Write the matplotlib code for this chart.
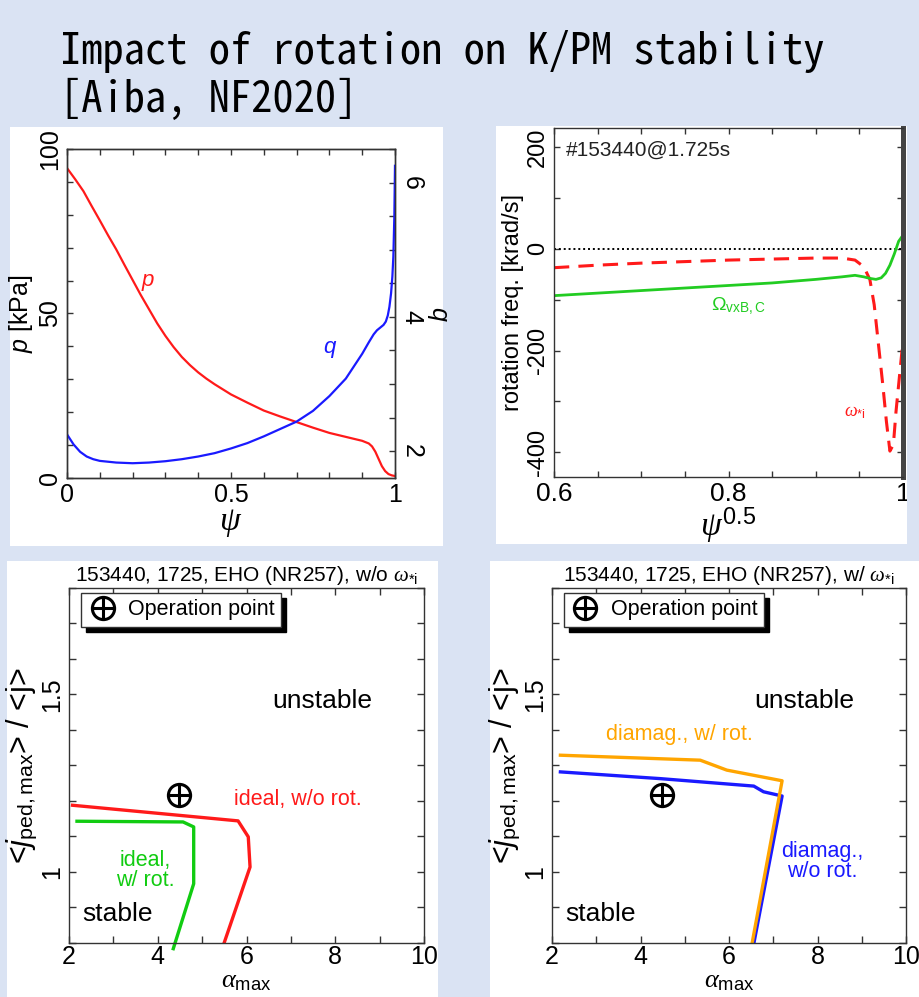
import matplotlib
matplotlib.use('Agg')
import matplotlib.pyplot as plt
from matplotlib.patches import Rectangle
from matplotlib.ticker import MultipleLocator, FixedLocator

plt.rcParams['font.family'] = 'Liberation Sans'
plt.rcParams['axes.unicode_minus'] = False
plt.rcParams['mathtext.fontset'] = 'custom'
plt.rcParams['mathtext.rm'] = 'Liberation Sans'
plt.rcParams['mathtext.it'] = 'Liberation Serif:italic'
plt.rcParams['mathtext.sf'] = 'Liberation Sans:italic'
plt.rcParams['mathtext.bf'] = 'Liberation Sans:bold'

# ---------------- data ----------------
# top-left: pressure and safety factor profiles
psi_p = [0, 0.025, 0.05, 0.075, 0.10, 0.125, 0.15, 0.175, 0.20, 0.225, 0.25, 0.275,
         0.30, 0.325, 0.35, 0.375, 0.40, 0.425, 0.45, 0.50, 0.55, 0.60, 0.65, 0.70,
         0.75, 0.80, 0.85, 0.90, 0.92, 0.93, 0.94, 0.95, 0.96, 0.97, 0.98, 0.99, 1.0]
p_kpa = [94.2, 90.8, 87.2, 82.7, 78.3, 73.8, 69.5, 64.8, 60.2, 55.6, 51.3, 47.0,
         43.2, 39.8, 36.8, 34.3, 32.1, 30.2, 28.5, 25.4, 22.9, 20.5, 18.7, 17.0,
         15.3, 13.7, 12.5, 11.3, 10.5, 9.6, 8.0, 5.8, 3.6, 2.1, 1.2, 0.8, 0.6]
psi_q = [0, 0.02, 0.04, 0.06, 0.08, 0.10, 0.15, 0.20, 0.25, 0.30, 0.35, 0.40, 0.45,
         0.50, 0.55, 0.60, 0.65, 0.70, 0.75, 0.80, 0.85, 0.90, 0.92, 0.935, 0.945,
         0.955, 0.965, 0.972, 0.978, 0.983, 0.988, 0.992, 0.995, 0.998, 1.0]
q_val = [2.25, 2.10, 1.99, 1.92, 1.88, 1.855, 1.83, 1.82, 1.83, 1.85, 1.88, 1.92, 1.97,
         2.04, 2.12, 2.22, 2.33, 2.44, 2.60, 2.82, 3.08, 3.45, 3.62, 3.74, 3.80,
         3.84, 3.88, 3.93, 4.02, 4.15, 4.35, 4.6, 4.9, 5.5, 6.25]

# top-right: rotation frequencies
rho_star = [0.60, 0.65, 0.70, 0.75, 0.80, 0.85, 0.90, 0.93, 0.945, 0.955, 0.962,
            0.967, 0.972, 0.977, 0.981, 0.985, 0.989, 0.992, 0.996, 1.0]
omega_star = [-37, -32, -28, -25, -22, -20, -18, -18, -22, -35, -60,
              -110, -190, -270, -340, -398, -385, -320, -250, -180]
rho_vxb = [0.60, 0.65, 0.70, 0.75, 0.80, 0.85, 0.90, 0.93, 0.945, 0.955, 0.962,
           0.969, 0.975, 0.98, 0.985, 0.99, 0.995, 1.0]
omega_vxb = [-92, -87, -82, -77, -72, -67, -60, -55, -52, -55, -58,
             -60, -57, -48, -32, -10, 15, 27]

# bottom: stability boundaries (alpha_max, <j_ped,max>/<j>)
ideal_norot_a = [2.08, 5.81, 6.04, 6.08, 5.49]
ideal_norot_j = [1.188, 1.144, 1.099, 1.014, 0.798]
ideal_rot_a = [2.18, 4.57, 4.81, 4.81, 4.35]
ideal_rot_j = [1.143, 1.141, 1.127, 0.967, 0.784]
dia_rot_a = [2.19, 5.35, 5.95, 7.20, 6.52]
dia_rot_j = [1.329, 1.315, 1.287, 1.257, 0.798]
dia_norot_a = [2.19, 4.45, 6.56, 6.78, 7.20, 6.56]
dia_norot_j = [1.282, 1.263, 1.242, 1.226, 1.214, 0.798]
op_a = [4.47, 4.49]
op_j = [1.218, 1.216]

# ---------------- layout helpers ----------------
W, H = 919, 997
fig = plt.figure(figsize=(W / 100, H / 100), dpi=100, facecolor='#dae3f3')


def px_axes(l, t, r, b):
    return fig.add_axes([l / W, 1 - b / H, (r - l) / W, (b - t) / H])


def white_box(l, t, r, b):
    rect = Rectangle((l / W, 1 - b / H), (r - l) / W, (b - t) / H,
                     transform=fig.transFigure, facecolor='white',
                     edgecolor='none', zorder=-1)
    fig.add_artist(rect)
    return rect


def style(ax, color='#333333'):
    for s in ax.spines.values():
        s.set_color(color)
        s.set_linewidth(1.0)
    ax.tick_params(which='both', direction='in', length=4, width=1,
                   colors=color, labelcolor='black', labelsize=18)


box1 = white_box(10, 127, 443, 546)
box2 = white_box(496, 126, 907, 544)
box3 = white_box(7, 561, 438, 997)
box4 = white_box(490, 561, 919, 997)

# title
title_font = ['Noto Sans Mono CJK JP', 'DejaVu Sans Mono']
fig.text(60 / W, 1 - 64 / H, 'Impact of rotation on K/PM stability',
         family=title_font, fontsize=30.6, va='baseline')
fig.text(60 / W, 1 - 112 / H, '[Aiba, NF2020]',
         family=title_font, fontsize=30.6, va='baseline')

# ---------------- panel 1: p and q ----------------
ax1 = px_axes(67, 149, 395, 478)
ax1.plot(psi_p, p_kpa, color='#ff1a1a', lw=1.6)
ax1.set_xlim(0, 1)
ax1.set_ylim(0, 100)
style(ax1)
ax1.xaxis.set_major_locator(FixedLocator([0, 0.5, 1]))
ax1.xaxis.set_minor_locator(MultipleLocator(0.1))
ax1.yaxis.set_major_locator(FixedLocator([0, 50, 100]))
ax1.yaxis.set_minor_locator(MultipleLocator(10))
ax1.tick_params(top=True, which='both')
ax1.xaxis.set_major_formatter(lambda v, pos: f'{v:g}')
ax1.tick_params(axis='y', labelrotation=90)
ax1.set_xlabel(r'$\psi$', fontsize=24, labelpad=0)
ax1.set_ylabel('$\\mathsf{p}$ [kPa]', fontsize=18, labelpad=2)
ax1.text(0.245, 60, 'p', color='#ff1a1a', style='italic', fontsize=16,
         ha='center', va='center')

ax1q = ax1.twinx()
ax1q.plot(psi_q, q_val, color='#1a1aff', lw=1.6)
ax1q.set_ylim(1.6, 6.5)
style(ax1q)
ax1q.yaxis.set_major_locator(FixedLocator([2, 4, 6]))
ax1q.yaxis.set_minor_locator(MultipleLocator(0.5))
ax1q.tick_params(axis='y', labelrotation=-90)
ax1q.set_ylabel('$\\mathsf{q}$', fontsize=18, rotation=-90, labelpad=18)
ax1q.text(0.80, 3.55, 'q', color='#1a1aff', style='italic', fontsize=16,
          ha='center', va='center')

# ---------------- panel 2: rotation frequencies ----------------
ax2 = px_axes(554, 128, 903, 477)
ax2.axhline(0, color='black', lw=1.4, ls=(0, (1, 1.5)))
ax2.plot(rho_star, omega_star, color='#ff1a1a', lw=2.2, ls=(0, (5, 3)))
ax2.plot(rho_vxb, omega_vxb, color='#22cc22', lw=2.0)
ax2.set_xlim(0.6, 1.0)
ax2.set_ylim(-449, 238)
style(ax2)
ax2.spines['right'].set_color('#444444')
ax2.spines['right'].set_linewidth(3.6)
ax2.xaxis.set_major_locator(FixedLocator([0.6, 0.8, 1.0]))
ax2.xaxis.set_minor_locator(MultipleLocator(0.05))
ax2.yaxis.set_major_locator(FixedLocator([-400, -200, 0, 200]))
ax2.yaxis.set_minor_locator(MultipleLocator(100))
ax2.xaxis.set_major_formatter(lambda v, pos: f'{v:g}')
ax2.tick_params(top=True, right=True, which='both')
ax2.tick_params(axis='y', labelrotation=90, labelsize=17)
ax2.tick_params(axis='x', labelsize=19)
ax2.set_xlabel(r'$\psi^{0.5}$', fontsize=24, labelpad=0)
ax2.set_ylabel('rotation freq. [krad/s]', fontsize=17, labelpad=2)
ax2.text(0.614, 194, '#153440@1.725s', fontsize=15, color='#222222',
         ha='left', va='center')
ax2.text(0.78, -113, r'$\mathrm{\Omega}_{\mathrm{vxB,C}}$', fontsize=14,
         color='#22cc22', ha='left', va='center')
ax2.text(0.932, -323, r'$\omega_{*\mathrm{i}}$', fontsize=13,
         color='#ff1a1a', ha='left', va='center')


# ---------------- panels 3 and 4: stability diagrams ----------------
def stab_axes(l, r, title, op_x, op_y):
    ax = px_axes(l, 588, r, 943)
    ax.set_xlim(2, 10)
    ax.set_ylim(0.8, 1.8)
    style(ax)
    ax.xaxis.set_major_locator(MultipleLocator(2))
    ax.xaxis.set_minor_locator(MultipleLocator(1))
    ax.yaxis.set_major_locator(FixedLocator([1.0, 1.5]))
    ax.yaxis.set_minor_locator(MultipleLocator(0.1))
    ax.yaxis.set_major_formatter(lambda v, pos: f'{v:g}')
    ax.tick_params(top=True, right=True, which='both', length=5)
    ax.tick_params(axis='y', labelrotation=90)
    ax.tick_params(axis='x', labelsize=18, pad=1.5)
    ax.set_title(title, fontsize=15, pad=5)
    ax.set_xlabel(r'$\alpha_{\mathrm{max}}$', fontsize=19, labelpad=0)
    ax.set_ylabel(r'<$\mathsf{j}_{\mathrm{ped,max}}$> / <j>', fontsize=22,
                  labelpad=1)
    circ, = ax.plot([op_x], [op_y], ls='none', marker='o', ms=16, mfc='none',
                    mec='black', mew=2.2)
    plus, = ax.plot([op_x], [op_y], ls='none', marker='+', ms=16,
                    mec='black', mew=2.2)
    leg = ax.legend([(circ, plus)], ['Operation point'], loc='upper left',
                    bbox_to_anchor=(12 / 355, 1 - 5 / 355), borderaxespad=0,
                    fancybox=False, edgecolor='#333333', fontsize=15.5,
                    handlelength=1.4, handletextpad=0.5, borderpad=0.3,
                    shadow={'ox': 3.5, 'oy': -3.5, 'color': 'black', 'alpha': 1})
    leg.get_frame().set_linewidth(1.0)
    ax.text(7.71, 1.483, 'unstable', fontsize=19, ha='center', va='center')
    ax.text(2.3, 0.883, 'stable', fontsize=19, ha='left', va='center')
    return ax


ax3 = stab_axes(69, 424, r'153440, 1725, EHO (NR257), w/o $\omega_{*\mathrm{i}}$',
                op_a[0], op_j[0])
ax3.plot(ideal_norot_a, ideal_norot_j, color='#ff1a1a', lw=2.4)
ax3.plot(ideal_rot_a, ideal_rot_j, color='#11cc11', lw=2.4, clip_on=False)
ax3.text(5.72, 1.205, 'ideal, w/o rot.', color='#ff1a1a', fontsize=15.5,
         ha='left', va='center')
ax3.text(3.72, 1.005, 'ideal,\nw/ rot.', color='#11cc11', fontsize=15.5,
         ha='center', va='center', linespacing=0.95)

ax4 = stab_axes(552, 906, r'153440, 1725, EHO (NR257), w/ $\omega_{*\mathrm{i}}$',
                op_a[1], op_j[1])
ax4.plot(dia_norot_a, dia_norot_j, color='#1a1aff', lw=2.4)
ax4.plot(dia_rot_a, dia_rot_j, color='#ffa500', lw=2.4)
ax4.text(3.22, 1.387, 'diamag., w/ rot.', color='#ffa500', fontsize=15.5,
         ha='left', va='center')
ax4.text(8.1, 1.03, 'diamag.,\nw/o rot.', color='#1a1aff', fontsize=15.5,
         ha='center', va='center', linespacing=0.95)

# rotated y tick labels centred on their ticks; clip labels running off the panels
fig.canvas.draw()
for ax in (ax1, ax1q, ax2, ax3, ax4):
    for tick in ax.yaxis.get_major_ticks():
        tick.label1.set_va('center')
        tick.label2.set_va('center')
for lbl in ax2.get_xticklabels():
    lbl.set_clip_path(box2)
for lbl in ax3.get_xticklabels():
    lbl.set_clip_path(box3)

fig.savefig('out.png', dpi=100, facecolor=fig.get_facecolor())
